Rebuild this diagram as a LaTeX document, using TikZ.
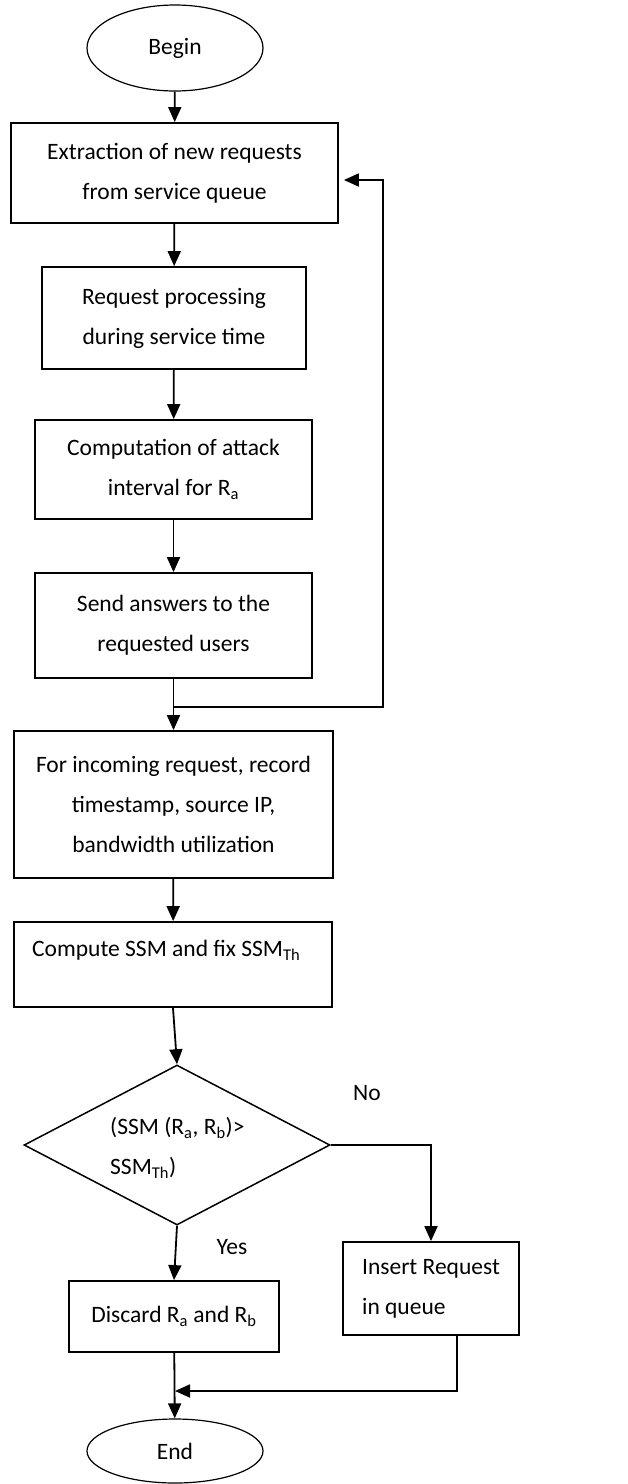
\documentclass[tikz,border=0pt]{standalone}
\usepackage{fontspec}
\setmainfont{Carlito}
\usetikzlibrary{shapes.geometric,arrows.meta,calc}

\begin{document}
\begin{tikzpicture}[x=1pt,y=-1pt,
  font=\fontsize{23.5}{40}\selectfont,
  box/.style={draw, rectangle, line width=1.8pt, align=center, inner sep=0pt},
  term/.style={draw, ellipse, line width=1.2pt, minimum width=176pt, minimum height=86pt, inner sep=0pt},
  decision/.style={draw, diamond, line width=1.5pt, minimum width=306pt, minimum height=160pt, inner sep=0pt},
  arr/.style={line width=1.8pt, -{Triangle[length=15pt,width=13pt]}}]
\useasboundingbox (0,0) rectangle (628,1484);

% terminals
\node[term] (begin) at (175,48) {Begin};
\node[term, minimum height=64pt] (end) at (175,1451) {End};

% process steps
\node[box, minimum width=327pt, minimum height=100pt] (extract) at (174.5,173)
  {Extraction of new requests\\from service queue};
\node[box, minimum width=264pt, minimum height=102pt] (process) at (174,318)
  {Request processing\\during service time};
\node[box, minimum width=277pt, minimum height=99pt] (interval) at (173.5,469.5)
  {Computation of attack\\interval for R\textsubscript{a}};
\node[box, minimum width=277pt, minimum height=105pt] (answer) at (173.5,625.5)
  {Send answers to the\\requested users};
\node[box, minimum width=319pt, minimum height=147pt] (record) at (173.5,804.5)
  {For incoming request, record\\timestamp, source IP,\\bandwidth utilization};
\node[box, minimum width=318pt, minimum height=85pt] (ssm) at (173,964.5) {};
\node[anchor=west, inner sep=0pt] (ssmtext) at (32,950)
  {Compute SSM and fix SSM\textsubscript{Th}};

% decision
\node[decision] (test) at (177,1145) {};
\node[anchor=west, align=left, inner sep=0pt] (testtext) at (110,1148)
  {(SSM (R\textsubscript{a}, R\textsubscript{b})>\\SSM\textsubscript{Th})};

% outcomes
\node[box, minimum width=210pt, minimum height=71pt] (discard) at (174,1316.5)
  {Discard R\textsubscript{a} and R\textsubscript{b}};
\node[box, minimum width=176pt, minimum height=93pt, align=left] (insert) at (431,1288.5)
  {Insert Request\\in queue};

\node (yes) at (232,1247) {Yes};
\node (no) at (367,1093) {No};

% junctions
\coordinate (j1) at (173.5,707);
\coordinate (j2) at (175,1391);

% main flow
\draw[arr] (begin) -- (extract);
\draw[arr] (extract) -- (process);
\draw[arr] (process) -- (interval);
\draw[arr] (interval) -- (answer);
\draw[arr] (answer) -- (record);
\draw[arr] (record) -- (ssm);
\draw[arr] (ssm.south) -- (test.north);
\draw[arr] (test.south) -- (discard.north);
\draw[arr] (test.east) -| (insert.north);
\draw[arr] (discard) -- (end);

% loop back to the queue
\draw[arr, shorten >=5pt] (j1) -| ([xshift=44pt,yshift=-7pt]extract.east) -- ([yshift=-7pt]extract.east);

% merge from the insert branch
\draw[arr] ([xshift=26pt]insert.south) |- (j2);
\end{tikzpicture}
\end{document}
